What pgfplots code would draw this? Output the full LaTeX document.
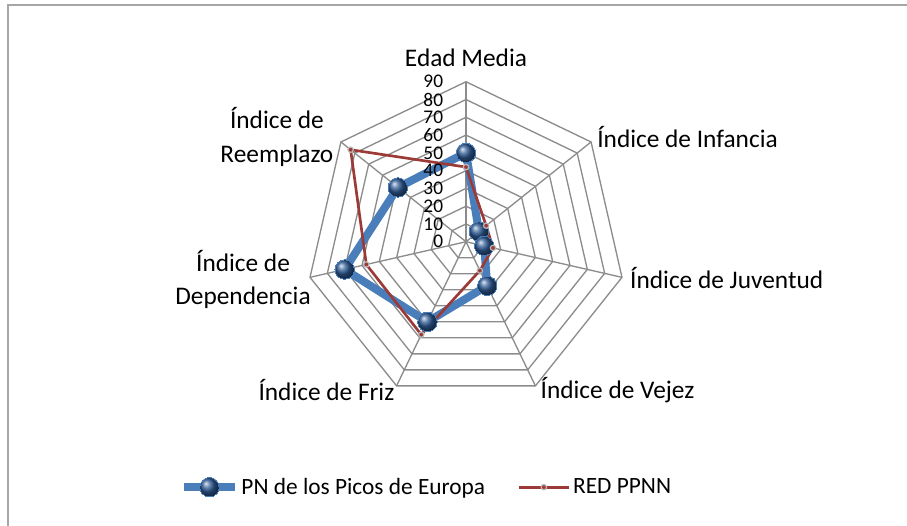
\documentclass[border=0pt]{standalone}
\usepackage{fontspec}
\setmainfont{Carlito}
\usepackage{pgfplots}
\pgfplotsset{compat=1.18}
\usepgfplotslibrary{polar}

\definecolor{pnblue}{HTML}{4A7EBB}
\definecolor{ballblue}{HTML}{2F5C96}
\definecolor{redppnn}{HTML}{9B3A37}
\definecolor{gridgray}{HTML}{8C8C8C}

\begin{document}
\begin{tikzpicture}
\begin{polaraxis}[
    hide axis,
    scale only axis,
    width=240pt, height=240pt,
    ymin=0, ymax=90,
    clip=false,
    legend columns=2,
    legend style={
        draw=none, fill=none,
        at={(axis description cs:0.378,-0.267)},
        anchor=center,
        font=\fontsize{17.5}{21}\selectfont,
        /tikz/every even column/.append style={column sep=22pt}},
    legend image code/.code={
        \draw[mark repeat=2,mark phase=2,#1]
        plot coordinates {(0pt,0pt) (19pt,0pt) (38pt,0pt)};},
    ]

    % rejilla heptagonal
    \pgfplotsinvokeforeach{10,20,30,40,50,60,70,80,90}{
        \addplot[gridgray, line width=1pt, forget plot] coordinates {
            (90,#1) (38.571,#1) (347.143,#1) (295.714,#1)
            (244.286,#1) (192.857,#1) (141.429,#1) (90,#1)
        };
    }
    \pgfplotsinvokeforeach{90,38.571,347.143,295.714,244.286,192.857,141.429}{
        \addplot[gridgray, line width=1pt, forget plot] coordinates {(#1,0) (#1,90)};
    }

    % PN de los Picos de Europa
    \addplot[pnblue, line width=6pt, mark=ball, mark size=7.3pt,
        mark options={ball color=ballblue, line width=0pt}] coordinates {
        (90,50) (38.571,9.3) (347.143,10.5) (295.714,27.5)
        (244.286,50) (192.857,70) (141.429,49) (90,50)
    };
    \addlegendentry{PN de los Picos de Europa}

    % RED PPNN
    \addplot[redppnn, line width=2pt, mark=*, mark size=2pt,
        mark options={draw=gray!55, fill=redppnn, line width=0.9pt}] coordinates {
        (90,42) (38.571,14.5) (347.143,15.6) (295.714,18)
        (244.286,58) (192.857,57.5) (141.429,83) (90,42)
    };
    \addlegendentry{RED PPNN}

    % escala
    \pgfplotsinvokeforeach{0,10,20,30,40,50,60,70,80,90}{
        \node[anchor=east, inner sep=0pt, xshift=-17pt,
            font=\fontsize{14.5}{14.5}\selectfont] at (axis cs:90,#1) {#1};
    }

    % categorias
    \begin{scope}[font=\fontsize{19}{25}\selectfont, inner sep=0pt]
    \node[anchor=center, yshift=17.8pt] at (axis cs:90,90) {Edad Media};
    \node[anchor=west, xshift=4.5pt, yshift=3.75pt] at (axis cs:38.571,90) {Índice de Infancia};
    \node[anchor=west, xshift=6pt, yshift=-0.75pt] at (axis cs:347.143,90) {Índice de Juventud};
    \node[anchor=west, xshift=3.75pt, yshift=-3pt] at (axis cs:295.714,90) {Índice de Vejez};
    \node[anchor=east, xshift=-1.5pt, yshift=-3pt] at (axis cs:244.286,90) {Índice de Friz};
    \node[anchor=center, align=center, xshift=-50.25pt, yshift=-1.5pt] at (axis cs:192.857,90) {Índice de\\Dependencia};
    \node[anchor=center, align=center, xshift=-48pt, yshift=3.75pt] at (axis cs:141.429,90) {Índice de\\Reemplazo};
    \end{scope}

    \coordinate (c) at (axis cs:0,0);
\end{polaraxis}

% marco
\pgfresetboundingbox
\path[use as bounding box] ([shift={(-349.5pt,-212.5pt)}]c) rectangle ([shift={(330.75pt,181.3pt)}]c);
\draw[gray!70, line width=1.5pt] ([shift={(-343.5pt,-240pt)}]c) rectangle ([shift={(345pt,177.2pt)}]c);
\end{tikzpicture}
\end{document}
